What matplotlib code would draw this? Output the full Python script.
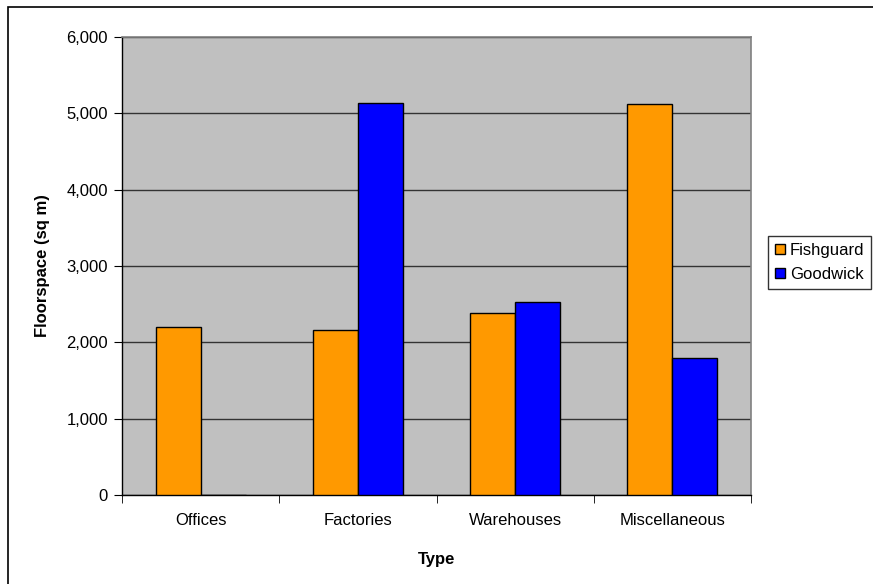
import numpy as np
import matplotlib
matplotlib.use("Agg")
import matplotlib.pyplot as plt
from matplotlib.patches import Rectangle
from matplotlib.ticker import FuncFormatter

plt.rcParams['font.family'] = ['Liberation Sans', 'DejaVu Sans']

categories = ["Offices", "Factories", "Warehouses", "Miscellaneous"]
fishguard = [2200, 2160, 2390, 5120]
goodwick = [0, 5140, 2530, 1800]
series_names = ["Fishguard", "Goodwick"]
y_ticks = [0, 1000, 2000, 3000, 4000, 5000, 6000]

W, H = 873, 584
FS = 12
fig = plt.figure(figsize=(W / 100, H / 100), dpi=100)
# plot area in pixels: left 122, right 751, top 37, bottom 495
ax = fig.add_axes([122 / W, 1 - 495 / H, (751 - 122) / W, (495 - 37) / H])

# outer chart border (right/bottom edges run off the image)
fig.patches.append(Rectangle((8 / W, -0.05), 1.2, 1 - 7 / H + 0.05,
                             transform=fig.transFigure, fill=False,
                             edgecolor='black', linewidth=1.2))

ax.set_facecolor('#C0C0C0')
x = np.arange(len(categories))
bw = 1 / 3.5
ax.bar(x - bw / 2, fishguard, bw, color='#FF9900', edgecolor='black',
       linewidth=1, label=series_names[0], zorder=3)
ax.bar(x + bw / 2, goodwick, bw, color='#0000FF', edgecolor='black',
       linewidth=1, label=series_names[1], zorder=3)

ax.set_xlim(-0.5, len(categories) - 0.5)
ax.set_ylim(0, 6000)
ax.set_yticks(y_ticks)
ax.yaxis.set_major_formatter(FuncFormatter(lambda v, p: f"{int(v):,}"))
ax.grid(axis='y', color='#333333', linewidth=1, zorder=1)
ax.set_axisbelow(True)

ax.set_xticks(x)
ax.set_xticklabels(categories, fontsize=FS)
ax.tick_params(axis='x', length=0, pad=13)
ax.set_xticks(np.arange(len(categories) + 1) - 0.5, minor=True)
ax.tick_params(axis='x', which='minor', length=6, direction='out', color='black')
ax.tick_params(axis='y', length=6, direction='out', labelsize=FS, pad=4)

for s in ['top', 'right']:
    ax.spines[s].set_color('#808080')
    ax.spines[s].set_linewidth(1.2)
for s in ['left', 'bottom']:
    ax.spines[s].set_color('black')
    ax.spines[s].set_linewidth(1)

ax.set_xlabel("Type", fontsize=FS, fontweight='bold', labelpad=17)
ax.set_ylabel("Floorspace (sq m)", fontsize=FS, fontweight='bold', labelpad=12)

leg = ax.legend(loc='upper left', bbox_to_anchor=(768 / W, 1 - 236 / H),
                bbox_transform=fig.transFigure, frameon=True, fancybox=False,
                edgecolor='black', fontsize=FS, handlelength=0.6,
                handleheight=0.6, handletextpad=0.3, borderpad=0.4,
                labelspacing=0.55, borderaxespad=0)
leg.get_frame().set_linewidth(1)

fig.savefig("out.png", dpi=100)
